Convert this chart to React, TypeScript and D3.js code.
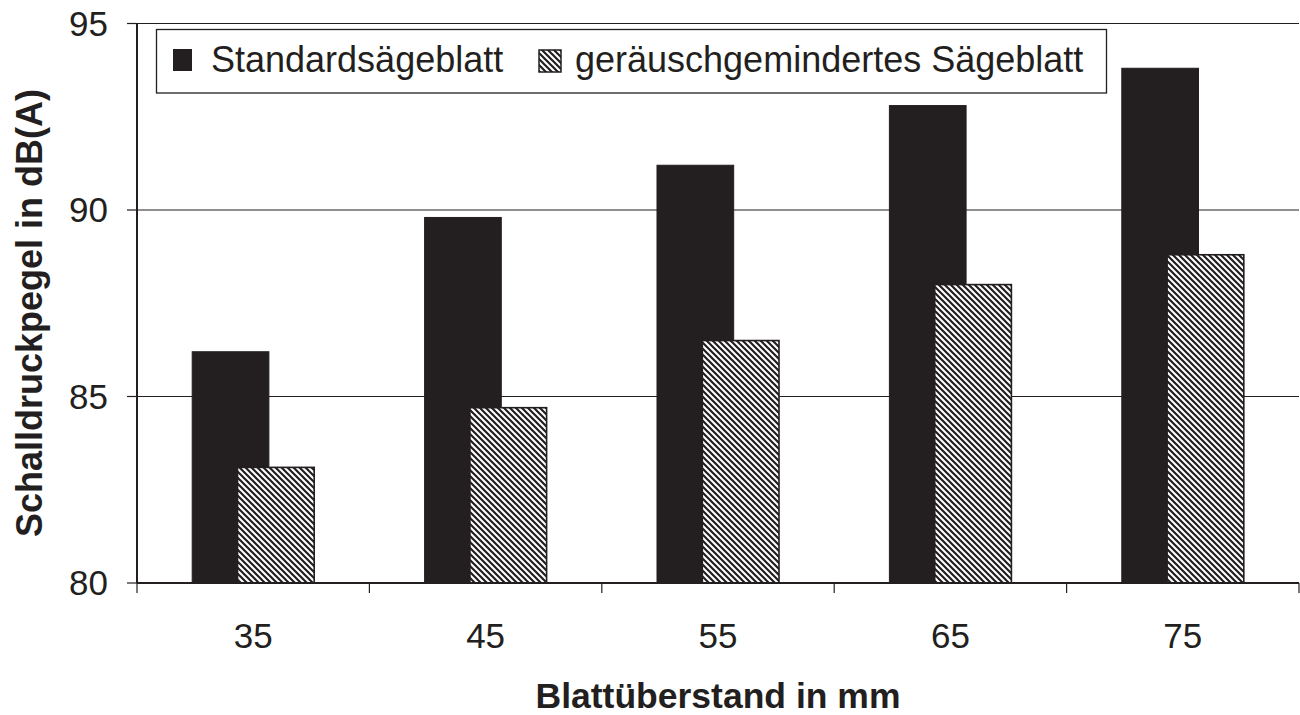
import React from "react";
import * as d3 from "d3";

const categories = ["35", "45", "55", "65", "75"];
const standardValues = [86.2, 89.8, 91.2, 92.8, 93.8];
const reducedValues = [83.1, 84.7, 86.5, 88.0, 88.8];
const yTicks = [80, 85, 90, 95];
const seriesNames = ["Standardsägeblatt", "geräuschgemindertes Sägeblatt"];

const W = 1300;
const H = 715;
const INK = "#231f20";
const FONT = "'Liberation Sans', Arial, Helvetica, sans-serif";

export default function App() {
  const left = 137;
  const right = 1299;
  const top = 23.5;
  const bottom = 583;

  const x = d3.scaleBand<string>().domain(categories).range([left, right]).padding(0);
  const y = d3.scaleLinear().domain([80, 95]).range([bottom, top]);
  const bw = x.bandwidth();
  const groupW = bw * 0.525;
  const barW = bw * 0.33;

  const boundaries = d3.range(categories.length + 1).map((i) => left + i * bw);

  return (
    <svg
      width={W}
      height={H}
      style={{ position: "absolute", left: 0, top: 0, background: "#fff" }}
      fontFamily={FONT}
    >
      <defs>
        <pattern id="hatch" width={6} height={6} patternUnits="userSpaceOnUse">
          <rect width={6} height={6} fill="#fff" />
          <path
            d="M-1,-1 L7,7 M-4,2 L1,7 M2,-4 L7,1"
            stroke={INK}
            strokeWidth={2.2}
          />
        </pattern>
      </defs>

      {/* gridlines */}
      {yTicks
        .filter((t) => t !== 80)
        .map((t) => (
          <line key={t} x1={left} x2={right} y1={y(t)} y2={y(t)} stroke={INK} strokeWidth={1.2} />
        ))}

      {/* bars */}
      {categories.map((c, i) => {
        const cx = x(c)! + bw / 2;
        const x0 = cx - groupW / 2;
        const x1 = cx + groupW / 2 - barW;
        return (
          <g key={c}>
            <rect
              x={x0}
              y={y(standardValues[i])}
              width={barW}
              height={bottom - y(standardValues[i])}
              fill={INK}
              stroke={INK}
              strokeWidth={1}
            />
            <rect
              x={x1}
              y={y(reducedValues[i])}
              width={barW}
              height={bottom - y(reducedValues[i])}
              fill="url(#hatch)"
              stroke={INK}
              strokeWidth={1.6}
            />
          </g>
        );
      })}

      {/* y axis */}
      <line x1={left} x2={left} y1={top} y2={bottom} stroke={INK} strokeWidth={2} />
      {yTicks.map((t) => (
        <g key={t}>
          <line x1={left - 10} x2={left} y1={y(t)} y2={y(t)} stroke={INK} strokeWidth={1.2} />
          <text
            x={108}
            y={y(t)}
            dy="0.35em"
            textAnchor="end"
            fontSize={35}
            fill={INK}
          >
            {t}
          </text>
        </g>
      ))}

      {/* x axis */}
      <line x1={left} x2={right} y1={bottom} y2={bottom} stroke={INK} strokeWidth={2} />
      {boundaries.map((b, i) => (
        <line key={i} x1={b} x2={b} y1={bottom} y2={bottom + 10} stroke={INK} strokeWidth={1.2} />
      ))}
      {categories.map((c) => (
        <text
          key={c}
          x={x(c)! + bw / 2}
          y={648}
          textAnchor="middle"
          fontSize={35}
          fill={INK}
        >
          {c}
        </text>
      ))}

      {/* axis titles */}
      <text
        x={(left + right) / 2}
        y={708}
        textAnchor="middle"
        fontSize={35.5}
        fontWeight="bold"
        fill={INK}
      >
        Blattüberstand in mm
      </text>
      <text
        transform={`translate(42,313) rotate(-90)`}
        textAnchor="middle"
        fontSize={36}
        fontWeight="bold"
        fill={INK}
      >
        Schalldruckpegel in dB(A)
      </text>

      {/* legend */}
      <g>
        <rect x={156.5} y={29.5} width={950} height={63.5} fill="#fff" stroke={INK} strokeWidth={1.3} />
        <rect x={173} y={49} width={19} height={22} fill={INK} />
        <text x={211} y={72} fontSize={36} fill={INK}>
          {seriesNames[0]}
        </text>
        <rect x={539} y={50} width={22} height={22} fill="url(#hatch)" stroke={INK} strokeWidth={1.5} />
        <text x={575} y={72} fontSize={36} fill={INK}>
          {seriesNames[1]}
        </text>
      </g>
    </svg>
  );
}
